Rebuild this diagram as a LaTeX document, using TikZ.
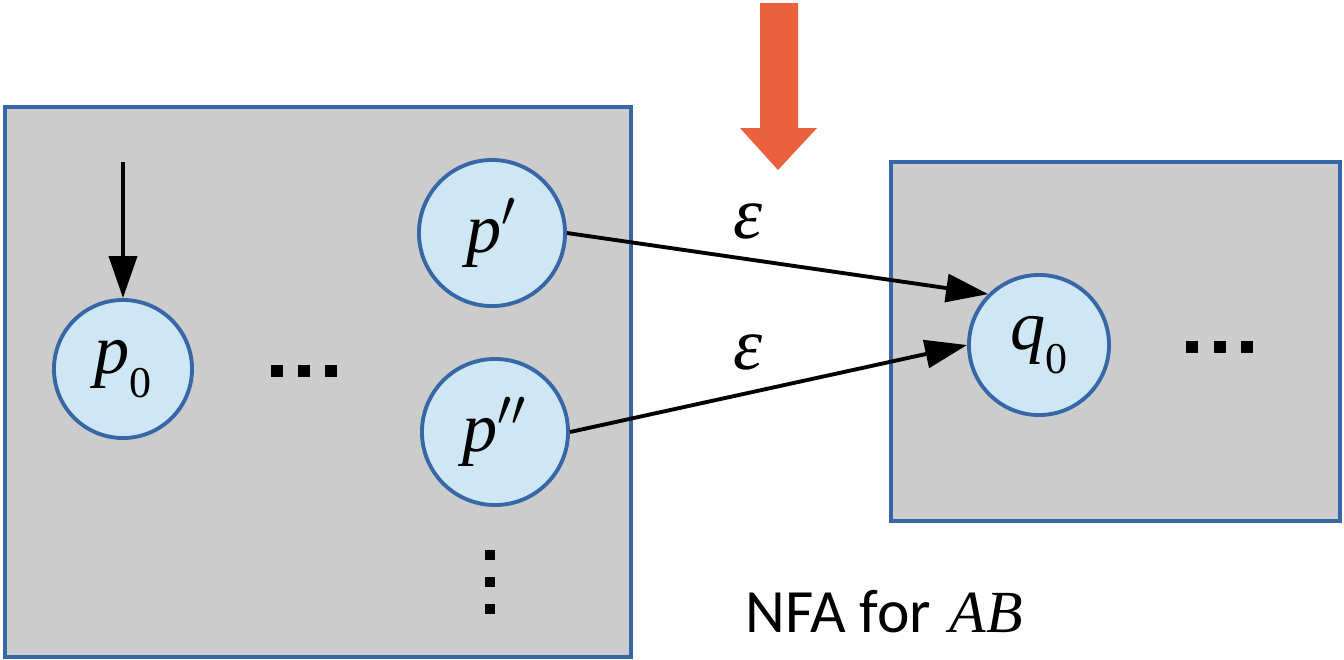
\documentclass[tikz,border=0pt]{standalone}
\usepackage{fontspec}
\newfontface\timesit{Liberation Serif Italic}
\newfontface\timesup{Liberation Serif}
\newfontfamily\labelfont{Carlito}
\usetikzlibrary{arrows.meta}

\definecolor{boxgray}{HTML}{CCCCCC}
\definecolor{edgeblue}{HTML}{3767A6}
\definecolor{statefill}{HTML}{CFE6F4}
\definecolor{hintorange}{HTML}{EB613E}

\tikzset{
  machine/.style={draw=edgeblue, fill=boxgray, line width=1.15pt},
  state/.style={circle, draw=edgeblue, fill=statefill, line width=1.1pt,
    inner sep=0pt, font=\fontsize{20}{24}\selectfont},
  trans/.style={line width=1.1pt, -{Triangle[length=0.42cm,width=0.28cm]}},
  eps/.style={font=\fontsize{21}{25}\selectfont},
  dotmark/.style={fill=black},
}

% italic state name with an upright index set lower and smaller
\newcommand{\stname}[2]{{\timesit #1}\raisebox{-7pt}{\fontsize{12.5}{14}\selectfont\timesup #2}}

\begin{document}
\begin{tikzpicture}[x=0.01cm, y=-0.01cm]
  \useasboundingbox (0,0) rectangle (1344,660);

  % the two machines
  \draw[machine] (5,107) rectangle (631,657);
  \draw[machine] (891,162) rectangle (1340,521);

  % states
  \node[state, minimum size=1.38cm] (p0) at (123,369) {\stname{p}{0}};
  \node[state, minimum size=1.46cm] (p1) at (492,233) {{\timesit p}$'$};
  \node[state, minimum size=1.46cm] (p2) at (495,432) {{\timesit p}$''$};
  \node[state, minimum size=1.40cm] (q0) at (1039,345) {\stname{q}{0}};

  % start arrow
  \coordinate (start) at (123,162);
  \draw[trans] (start) -- (p0.north);

  % epsilon moves
  \draw[trans] (p1.east) -- (q0.135);
  \draw[trans] (p2.east) -- (q0.west);
  \node[eps] (e1) at (748,221) {{\timesit ε}};
  \node[eps] (e2) at (748,352) {{\timesit ε}};

  % ellipses
  \foreach \cx in {277,304,331} \fill[dotmark] (\cx-6,365) rectangle (\cx+6,377);
  \foreach \cx in {1192,1220,1247} \fill[dotmark] (\cx-6,341) rectangle (\cx+6,353);
  \foreach \cy in {555,582,609} \fill[dotmark] (485,\cy-5) rectangle (495,\cy+5);

  % big orange arrow
  \fill[hintorange] (760,3) -- (798,3) -- (798,128) -- (817,128) -- (778,170)
    -- (740,128) -- (760,128) -- cycle;

  % caption
  \node[font=\fontsize{17.5}{21}\selectfont] (cap) at (884,612)
    {{\labelfont NFA for} {\timesit\fontsize{17}{20}\selectfont AB}};
\end{tikzpicture}
\end{document}
